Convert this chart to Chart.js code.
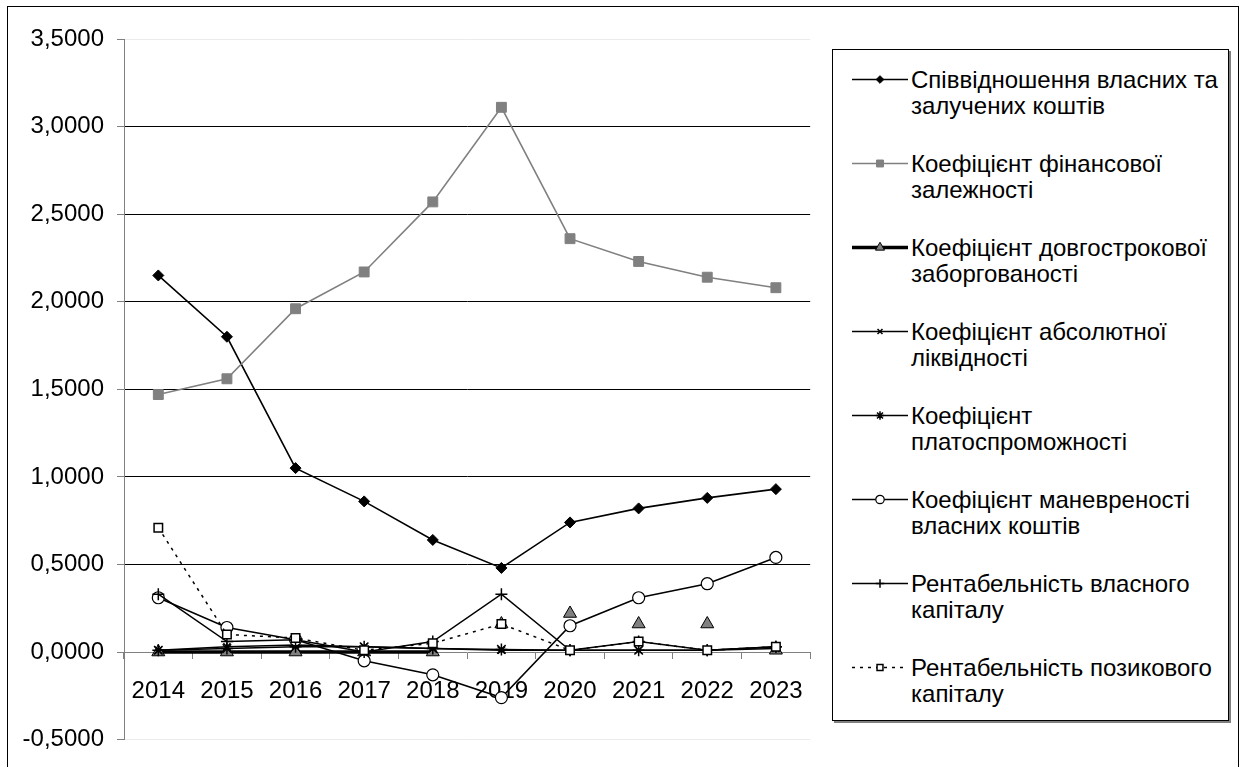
<!doctype html>
<html lang="uk">
<head>
<meta charset="utf-8">
<title>Фінансові коефіцієнти 2014-2023</title>
<style>
  * { margin: 0; padding: 0; }
  body {
    width: 1244px;
    height: 767px;
    overflow: hidden;
    background: #fff;
    position: relative;
    font-family: "Liberation Sans", Arial, sans-serif;
  }
  .frame {
    position: absolute;
    left: 7px;
    top: 6px;
    width: 1230px;
    height: 800px;
    border: 1px solid #000;
  }
  .chartBox {
    position: absolute;
    left: 0;
    top: 0;
    width: 822px;
    height: 767px;
  }
  .legend {
    position: absolute;
    left: 832px;
    top: 49px;
    width: 395px;
    height: 670px;
    border: 1px solid #000;
    box-shadow: 2px 2px 0 #808080;
    background: #fff;
  }
  .item { position: absolute; left: 0; width: 395px; height: 52px; }
  .item canvas { position: absolute; left: 19px; top: 0; }
  .item span {
    position: absolute;
    left: 78px;
    top: 0;
    font-size: 24px;
    line-height: 26px;
    white-space: nowrap;
    color: #000;
  }
</style>
</head>
<body>
<div class="frame"></div>
<div class="chartBox"><canvas id="myChart"></canvas></div>
<div class="legend" id="legend"></div>

<script src="https://cdn.jsdelivr.net/npm/chart.js"></script>
<script>
// data
const years = ['2014', '2015', '2016', '2017', '2018', '2019', '2020', '2021', '2022', '2023'];
const ownToBorrowed   = [2.15, 1.80, 1.05, 0.86, 0.64, 0.48, 0.74, 0.82, 0.88, 0.93];
const finDependence   = [1.47, 1.56, 1.96, 2.17, 2.57, 3.11, 2.36, 2.23, 2.14, 2.08];
const longTermDebt    = [0.00, 0.00, 0.00, 0.00, 0.00, 0.16, 0.22, 0.16, 0.16, 0.01];
const absLiquidity    = [0.01, 0.03, 0.04, 0.03, 0.02, 0.01, 0.01, 0.01, 0.01, 0.02];
const solvency        = [0.01, 0.02, 0.03, 0.03, 0.02, 0.015, 0.01, 0.01, 0.01, 0.03];
const maneuverability = [0.31, 0.14, 0.07, -0.05, -0.13, -0.26, 0.15, 0.31, 0.39, 0.54];
const returnOwnCap    = [0.33, 0.06, 0.07, 0.00, 0.06, 0.33, 0.01, 0.06, 0.01, 0.03];
const returnBorrowed  = [0.71, 0.10, 0.08, 0.01, 0.05, 0.16, 0.01, 0.06, 0.01, 0.03];

const seriesNames = [
  ['Співвідношення власних та', 'залучених коштів'],
  ['Коефіцієнт фінансової', 'залежності'],
  ['Коефіцієнт довгострокової', 'заборгованості'],
  ['Коефіцієнт абсолютної', 'ліквідності'],
  ['Коефіцієнт', 'платоспроможності'],
  ['Коефіцієнт маневреності', 'власних коштів'],
  ['Рентабельність власного', 'капіталу'],
  ['Рентабельність позикового', 'капіталу']
];

const yMin = -0.5, yMax = 3.5, yStep = 0.5;
const FONT = '"Liberation Sans", Arial, sans-serif';

// last point index of the long term debt series that is joined by its line
const debtLineEnd = 4;

const datasets = [
  { data: ownToBorrowed, borderColor: '#000', borderWidth: 1.6, pointStyle: 'rectRot',
    pointRadius: 5.5, pointBackgroundColor: '#000', pointBorderColor: '#000', pointBorderWidth: 1 },
  { data: finDependence, borderColor: '#808080', borderWidth: 1.6, pointStyle: 'rect',
    pointRadius: 7, pointBackgroundColor: '#808080', pointBorderColor: '#808080', pointBorderWidth: 1 },
  { data: longTermDebt, borderColor: '#000', borderWidth: 3.5, pointStyle: 'triangle',
    pointRadius: 7.5, pointBackgroundColor: '#808080', pointBorderColor: '#000', pointBorderWidth: 1,
    segment: { borderColor: ctx => ctx.p1DataIndex > debtLineEnd ? 'rgba(0,0,0,0)' : '#000' } },
  { data: absLiquidity, borderColor: '#000', borderWidth: 1.5, pointStyle: 'crossRot',
    pointRadius: 5, pointBackgroundColor: '#000', pointBorderColor: '#000', pointBorderWidth: 1.5 },
  { data: solvency, borderColor: '#000', borderWidth: 1.5, pointStyle: 'star',
    pointRadius: 6, pointBackgroundColor: '#000', pointBorderColor: '#000', pointBorderWidth: 1.5 },
  { data: maneuverability, borderColor: '#000', borderWidth: 1.5, pointStyle: 'circle',
    pointRadius: 6, pointBackgroundColor: '#fff', pointBorderColor: '#000', pointBorderWidth: 1.2 },
  { data: returnOwnCap, borderColor: '#000', borderWidth: 1.5, pointStyle: 'cross',
    pointRadius: 6, pointBackgroundColor: '#000', pointBorderColor: '#000', pointBorderWidth: 1.5 },
  { data: returnBorrowed, borderColor: '#000', borderWidth: 1.5, borderDash: [3, 5], pointStyle: 'rect',
    pointRadius: 6, pointBackgroundColor: '#fff', pointBorderColor: '#000', pointBorderWidth: 1.5 }
].map((d, i) => Object.assign(d, {
  label: seriesNames[i].join(' '),
  fill: false,
  tension: 0,
  order: seriesNames.length - i
}));

function gridColor(ctx) {
  const v = ctx.tick.value;
  if (Math.abs(v) < 1e-9) return 'rgba(0,0,0,0)';
  if (v <= yMin + 1e-9 || v >= yMax - 1e-9) return '#ebebeb';
  return '#000';
}

const config = {
  type: 'line',
  data: { labels: years, datasets },
  options: {
    responsive: true,
    maintainAspectRatio: false,
    animation: false,
    layout: { padding: { left: 0, top: 39, right: 4, bottom: 27 } },
    plugins: { legend: { display: false }, tooltip: { enabled: false } },
    scales: {
      x: {
        position: { y: 0 },
        offset: true,
        grid: { offset: true, drawOnChartArea: false, tickLength: 6, tickColor: '#808080' },
        border: { color: '#808080' },
        ticks: { color: '#000', font: { size: 24, family: FONT }, padding: 19, maxRotation: 0, autoSkip: false }
      },
      y: {
        min: yMin,
        max: yMax,
        afterFit: s => { s.width = 124; },
        grid: { color: gridColor, tickColor: '#808080', tickLength: 7 },
        border: { color: '#808080' },
        ticks: {
          stepSize: yStep,
          color: '#000',
          padding: 13,
          font: { size: 24, family: FONT },
          callback: v => Number(v).toFixed(4).replace('.', ',')
        }
      }
    }
  }
};

new Chart(document.getElementById('myChart'), config);

// html legend, samples drawn with chart.js point helper
const legend = document.getElementById('legend');
datasets.forEach((d, i) => {
  const item = document.createElement('div');
  item.className = 'item';
  item.style.top = (17 + 84 * i) + 'px';
  const cv = document.createElement('canvas');
  cv.width = 56; cv.height = 26;
  const span = document.createElement('span');
  span.innerHTML = seriesNames[i].join('<br>');
  item.appendChild(cv);
  item.appendChild(span);
  legend.appendChild(item);

  const c = cv.getContext('2d');
  const y = 12.5;
  c.strokeStyle = d.borderColor;
  c.lineWidth = d.borderWidth;
  c.setLineDash(d.borderDash || []);
  c.beginPath();
  c.moveTo(0, y);
  c.lineTo(cv.width, y);
  c.stroke();
  c.setLineDash([]);
  c.fillStyle = d.pointBackgroundColor;
  c.strokeStyle = d.pointBorderColor;
  c.lineWidth = d.pointBorderWidth;
  Chart.helpers.drawPoint(c, {
    pointStyle: d.pointStyle,
    radius: d.pointRadius * 0.7,
    borderWidth: d.pointBorderWidth,
    rotation: 0
  }, cv.width / 2, y);
});
</script>
</body>
</html>
